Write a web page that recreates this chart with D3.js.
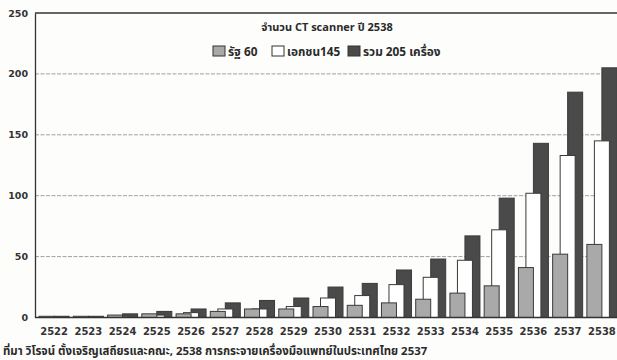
<!DOCTYPE html>
<html>
<head>
<meta charset="utf-8">
<script src="https://cdn.jsdelivr.net/npm/d3@7/dist/d3.min.js"></script>
<style>
  html, body { margin: 0; padding: 0; background: #fdfdfc; }
  svg { display: block; }
  .num { font-family: "DejaVu Sans", "Liberation Sans", sans-serif; font-weight: bold; fill: #333; }
  .thai { font-family: "Noto Sans Thai", "Noto Sans Thai Looped", Loma, Garuda, Tahoma, "DejaVu Sans", sans-serif; font-weight: bold; fill: #2a2a2a; }
</style>
</head>
<body>
<svg id="chart" width="617" height="360"></svg>
<script>
// CT scanners in Thailand, by Buddhist-era year
const years = ["2522","2523","2524","2525","2526","2527","2528","2529","2530",
               "2531","2532","2533","2534","2535","2536","2537","2538"];
const govt    = [1, 1, 2, 3, 3, 5, 7, 7, 9, 10, 12, 15, 20, 26, 41, 52, 60];
const privateSector = [0, 0, 1, 2, 4, 7, 7, 9, 16, 18, 27, 33, 47, 72, 102, 133, 145];
const total   = [1, 1, 3, 5, 7, 12, 14, 16, 25, 28, 39, 48, 67, 98, 143, 185, 205];
const yTicks  = [0, 50, 100, 150, 200, 250];

const legendTitle = "จำนวน CT scanner ปี 2538";
const seriesNames = ["รัฐ 60", "เอกชน145", "รวม 205 เครื่อง"];
const sourceNote = "ที่มา วิโรจน์ ตั้งเจริญเสถียรและคณะ, 2538 การกระจายเครื่องมือแพทย์ในประเทศไทย 2537";

const svg = d3.select("#chart");
const plotLeft = 35, plotRight = 617, plotTop = 13, plotBottom = 317.5;

const x = d3.scaleBand().domain(years).range([37, 619]).padding(0);
const y = d3.scaleLinear().domain([0, 250]).range([plotBottom, plotTop]);

// horizontal grid lines
svg.append("g").selectAll("line")
  .data(yTicks.filter(v => v > 0 && v < 250))
  .join("line")
  .attr("x1", plotLeft).attr("x2", plotRight)
  .attr("y1", d => y(d)).attr("y2", d => y(d))
  .attr("stroke", "#a0a0a0").attr("stroke-width", 1)
  .attr("stroke-dasharray", "4,1.5");

// top frame line
svg.append("line")
  .attr("x1", plotLeft).attr("x2", plotRight)
  .attr("y1", y(250)).attr("y2", y(250))
  .attr("stroke", "#333").attr("stroke-width", 1.3);

// y axis
const yAxis = svg.append("g")
  .attr("transform", `translate(${plotLeft},0)`)
  .call(d3.axisLeft(y).tickValues(yTicks).tickSize(0).tickPadding(7));
yAxis.select(".domain").attr("stroke", "#333").attr("stroke-width", 1.3);
yAxis.selectAll("text").attr("class", "num").attr("font-size", "9.5px");

// bars: three overlapping columns per year, back to front
const series = [
  { values: total, fill: "#4a4a4a", offset: 0 },
  { values: privateSector, fill: "#ffffff", offset: -7.5 },
  { values: govt, fill: "#a9a9a9", offset: -15 }
];
const barW = 15;
series.forEach(s => {
  svg.append("g").selectAll("rect")
    .data(years.map((yr, i) => ({ yr, v: s.values[i] })))
    .join("rect")
    .attr("x", d => x(d.yr) + x.bandwidth() / 2 + s.offset)
    .attr("width", barW)
    .attr("y", d => y(d.v))
    .attr("height", d => y(0) - y(d.v))
    .attr("fill", s.fill)
    .attr("stroke", "#3a3a3a")
    .attr("stroke-width", 1);
});

// x axis
const xAxis = svg.append("g")
  .attr("transform", `translate(0,${plotBottom})`)
  .call(d3.axisBottom(x).tickSize(0).tickPadding(10));
xAxis.select(".domain").remove();
svg.append("line")
  .attr("x1", plotLeft).attr("x2", plotRight)
  .attr("y1", plotBottom).attr("y2", plotBottom)
  .attr("stroke", "#333").attr("stroke-width", 1.3);
xAxis.selectAll("text").attr("class", "num").attr("font-size", "10px");

// legend
svg.append("text").attr("class", "thai")
  .attr("x", 327).attr("y", 31)
  .attr("text-anchor", "middle")
  .attr("font-size", "11px")
  .text(legendTitle);

const legendItems = [
  { name: seriesNames[0], fill: "#a9a9a9", x: 213 },
  { name: seriesNames[1], fill: "#ffffff", x: 272 },
  { name: seriesNames[2], fill: "#4a4a4a", x: 348 }
];
const lg = svg.append("g");
legendItems.forEach(it => {
  lg.append("rect")
    .attr("x", it.x).attr("y", 46).attr("width", 12).attr("height", 10)
    .attr("fill", it.fill).attr("stroke", "#333").attr("stroke-width", 1);
  lg.append("text").attr("class", "thai")
    .attr("x", it.x + 15).attr("y", 55.5)
    .attr("font-size", "11.8px")
    .text(it.name);
});

// source note
svg.append("text").attr("class", "thai")
  .attr("x", 3).attr("y", 355)
  .attr("font-size", "11.4px")
  .text(sourceNote);
</script>
</body>
</html>
